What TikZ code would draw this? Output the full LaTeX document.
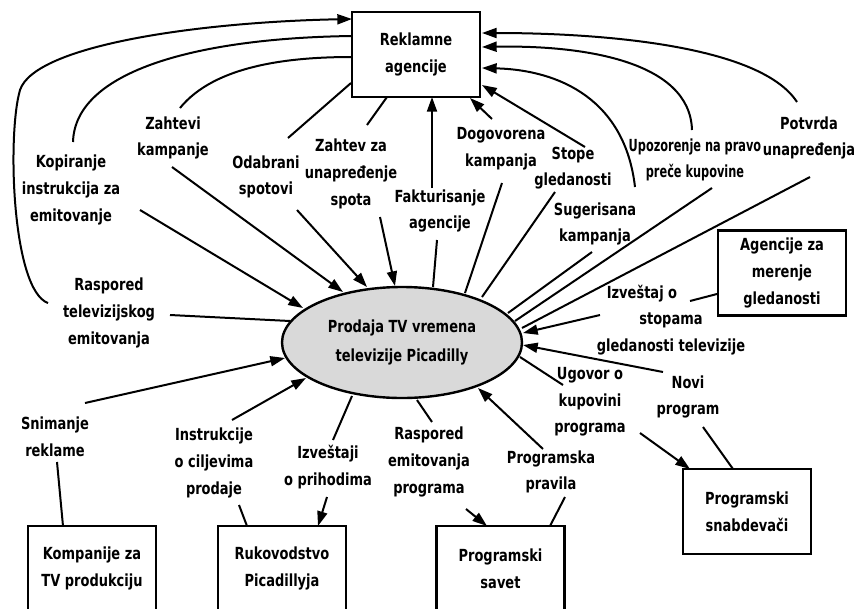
\documentclass[tikz,border=0pt]{standalone}
\usepackage{fontspec}
\setmainfont{DejaVu Sans}[FakeStretch=0.78]
\newfontfamily\narrowfont{DejaVu Sans}[FakeStretch=0.68]
\usetikzlibrary{arrows.meta,shapes.geometric}

\begin{document}
\begin{tikzpicture}[x=0.75pt,y=-0.75pt,
  txt/.style={font=\fontsize{12.5}{20}\selectfont\bfseries},
  lbl/.style={txt,align=center,inner sep=0pt},
  ent/.style={txt,draw,line width=1.8pt,align=center,
    minimum width=96pt,minimum height=63.75pt,inner sep=0pt},
  proc/.style={txt,draw,ellipse,line width=1.8pt,fill=black!15,align=center,
    minimum width=180pt,minimum height=83.25pt,inner sep=0pt},
  seg/.style={line width=1.5pt},
  flow/.style={seg,-{Triangle[length=11pt,width=7.5pt]}}
]
\useasboundingbox (0,0) rectangle (858,608);

% external entities and the central process
\node[ent]  (agency)  at (416,54.5)  {Reklamne\\agencije};
\node[ent]  (rating)  at (782,273)   {Agencije za\\merenje\\gledanosti};
\node[ent]  (prodco)  at (92,568.5)  {Kompanije za\\TV produkciju};
\node[ent]  (mgmt)    at (282,568.5) {Rukovodstvo\\Picadillyja};
\node[ent]  (council) at (500.5,568.5) {Programski\\savet};
\node[ent]  (supply)  at (747,511.5) {Programski\\snabdevači};
\node[proc] (sales)   at (402,342.5) {Prodaja TV vremena\\[2pt]televizije Picadilly};

% flow labels
\node[lbl] (lKop)  at (71,190)  {Kopiranje\\instrukcija za\\emitovanje};
\node[lbl] (lZk)   at (173,138) {Zahtevi\\kampanje};
\node[lbl] (lOs)   at (266,177) {Odabrani\\spotovi};
\node[lbl] (lZu)   at (351,174) {Zahtev za\\unapređenje\\spota};
\node[lbl] (lFa)   at (440,211) {Fakturisanje\\agencije};
\node[lbl] (lDk)   at (501,149) {Dogovorena\\kampanja};
\node[lbl] (lSg)   at (573,168) {Stope\\gledanosti};
\node[lbl] (lSk)   at (595,224) {Sugerisana\\kampanja};
\node[lbl,font=\fontsize{12.5}{20}\narrowfont\bfseries] (lUp) at (695,160) {Upozorenje na pravo\\preče kupovine};
\node[lbl] (lPu)   at (809,138) {Potvrda\\unapređenja};
\node[lbl] (lRt)   at (109,313) {Raspored\\televizijskog\\emitovanja};
\node[lbl] (lIs)   at (671,320) {Izveštaj o\hspace*{43.5pt}\\stopama\hspace*{43.5pt}\\gledanosti televizije};
\node[lbl] (lUg)   at (590,402) {Ugovor o\\kupovini\\programa};
\node[lbl] (lNp)   at (688,397) {Novi\\program};
\node[lbl] (lSr)   at (55,437)  {Snimanje\\reklame};
\node[lbl] (lIc)   at (214,463) {Instrukcije\\o ciljevima\\prodaje};
\node[lbl] (lIp)   at (328,467) {Izveštaji\\o prihodima};
\node[lbl] (lRe)   at (429,462) {Raspored\\emitovanja\\programa};
\node[lbl] (lPp)   at (551,472) {Programska\\pravila};

% connector end points
\coordinate (rtA) at (48,303);   \coordinate (rtB) at (352,19);
\coordinate (kpA) at (73,142);   \coordinate (kpB) at (352,36);
\coordinate (zkA) at (180,108);  \coordinate (zkB) at (352,57);
\coordinate (osA) at (288,138);  \coordinate (osB) at (351,83);
\coordinate (zuA) at (367,125);  \coordinate (zuB) at (387,97);
\coordinate (faA) at (432,188);  \coordinate (faB) at (432,97);
\coordinate (dkA) at (492,119);  \coordinate (dkB) at (470,98);
\coordinate (sgA) at (585,147);  \coordinate (sgB) at (482,85);
\coordinate (skA) at (635,187);  \coordinate (skB) at (482,68);
\coordinate (upA) at (692,130);  \coordinate (upB) at (482,47);
\coordinate (puA) at (797,102);  \coordinate (puB) at (482,33);

\coordinate (kpC) at (140,210);  \coordinate (kpD) at (303,308);
\coordinate (zkC) at (172,167);  \coordinate (zkD) at (343,292);
\coordinate (osC) at (297,210);  \coordinate (osD) at (367,287);
\coordinate (zuC) at (380,217);  \coordinate (zuD) at (395,286);
\coordinate (faC) at (437,240);  \coordinate (faD) at (433,287);
\coordinate (dkC) at (502,183);  \coordinate (dkD) at (465,293);
\coordinate (sgC) at (555,192);  \coordinate (sgD) at (482,297);
\coordinate (skC) at (592,252);  \coordinate (skD) at (508,313);
\coordinate (upC) at (712,188);  \coordinate (upD) at (515,321);
\coordinate (puC) at (810,177);  \coordinate (puD) at (522,328);
\coordinate (rtC) at (170,315);  \coordinate (rtD) at (290,321);

\coordinate (isA) at (717,294);  \coordinate (isB) at (690,301);
\coordinate (isC) at (600,315);  \coordinate (isD) at (523,333);
\coordinate (npA) at (663,372);  \coordinate (npB) at (523,345);
\coordinate (npC) at (703,427);  \coordinate (npD) at (733,469);
\coordinate (ugA) at (520,357);  \coordinate (ugB) at (563,385);
\coordinate (ugC) at (640,433);  \coordinate (ugD) at (690,469);
\coordinate (ppA) at (543,449);  \coordinate (ppB) at (478,388);
\coordinate (ppC) at (565,497);  \coordinate (ppD) at (550,526);
\coordinate (reA) at (417,400);  \coordinate (reB) at (432,422);
\coordinate (reC) at (466,509);  \coordinate (reD) at (487,526);
\coordinate (ipA) at (352,396);  \coordinate (ipB) at (333,440);
\coordinate (ipC) at (327,497);  \coordinate (ipD) at (318,526);
\coordinate (icA) at (232,420);  \coordinate (icB) at (306,378);
\coordinate (icC) at (239,505);  \coordinate (icD) at (247,526);
\coordinate (srA) at (85,403);   \coordinate (srB) at (285,358);
\coordinate (srC) at (57,462);   \coordinate (srD) at (63,526);

% flows between the agencies and their labels
\draw[flow] (rtA) .. controls (12,290) and (7,135) .. (20,90)
                  .. controls (35,45) and (200,22) .. (rtB);
\draw[seg]  (kpA) .. controls (75,70) and (200,38) .. (kpB);
\draw[seg]  (zkA) .. controls (215,65) and (290,57) .. (zkB);
\draw[seg]  (osA) -- (osB);
\draw[seg]  (zuA) -- (zuB);
\draw[flow] (faA) -- (faB);
\draw[flow] (dkA) -- (dkB);
\draw[flow] (sgA) -- (sgB);
\draw[flow] (skA) .. controls (625,100) and (560,70) .. (skB);
\draw[flow] (upA) .. controls (690,60) and (580,45) .. (upB);
\draw[flow] (puA) .. controls (760,45) and (600,33) .. (puB);

% flows between the labels and the process
\draw[flow] (kpC) -- (kpD);
\draw[flow] (zkC) -- (zkD);
\draw[flow] (osC) -- (osD);
\draw[flow] (zuC) -- (zuD);
\draw[seg]  (faC) -- (faD);
\draw[seg]  (dkC) -- (dkD);
\draw[seg]  (sgC) -- (sgD);
\draw[seg]  (skC) -- (skD);
\draw[seg]  (upC) -- (upD);
\draw[seg]  (puC) -- (puD);
\draw[seg]  (rtC) -- (rtD);

% the other entities
\draw[seg]  (isA) -- (isB);
\draw[flow] (isC) -- (isD);
\draw[flow] (npA) -- (npB);
\draw[seg]  (npC) -- (npD);
\draw[seg]  (ugA) -- (ugB);
\draw[flow] (ugC) -- (ugD);
\draw[flow] (ppA) -- (ppB);
\draw[seg]  (ppC) -- (ppD);
\draw[seg]  (reA) -- (reB);
\draw[flow] (reC) -- (reD);
\draw[seg]  (ipA) -- (ipB);
\draw[flow] (ipC) -- (ipD);
\draw[flow] (icA) -- (icB);
\draw[seg]  (icC) -- (icD);
\draw[flow] (srA) -- (srB);
\draw[seg]  (srC) -- (srD);
\end{tikzpicture}
\end{document}
